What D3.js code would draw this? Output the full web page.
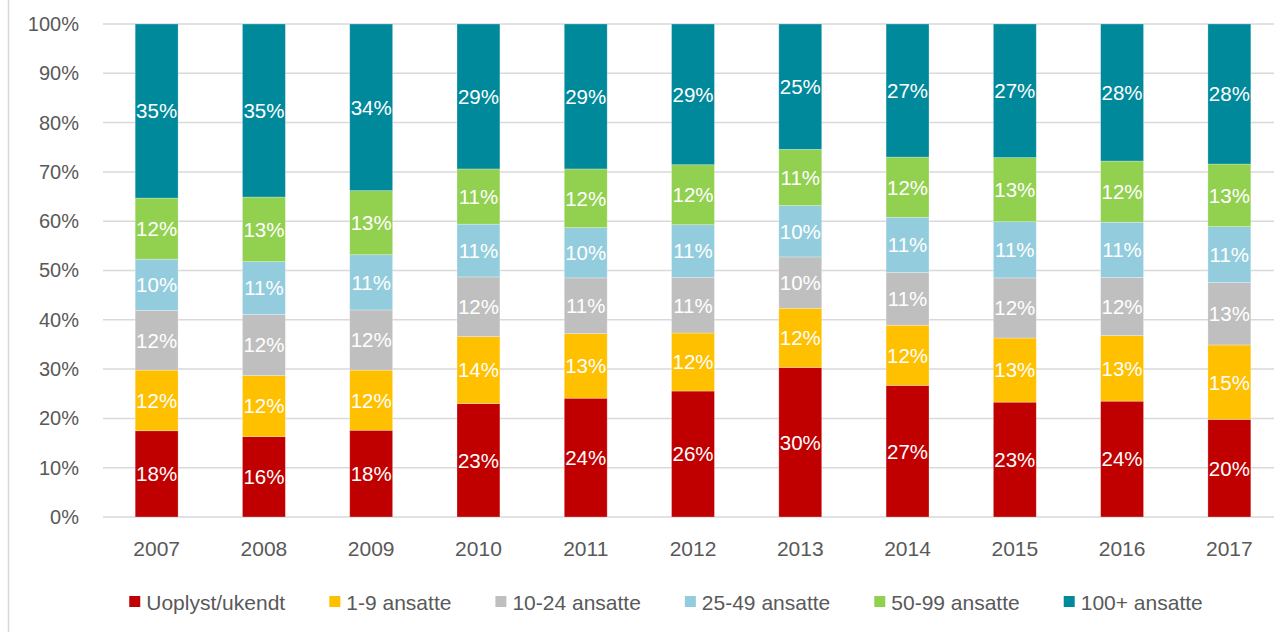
<!DOCTYPE html>
<html>
<head>
<meta charset="utf-8">
<script src="https://cdn.jsdelivr.net/npm/d3@7"></script>
<style>
  body { margin: 0; background: #fff; }
  svg { display: block; font-family: "Liberation Sans", Arial, sans-serif; }
</style>
</head>
<body>
<div id="chart"></div>
<script>
// data (shares in %)
const years = ["2007", "2008", "2009", "2010", "2011", "2012", "2013", "2014", "2015", "2016", "2017"];
const seriesNames = ["Uoplyst/ukendt", "1-9 ansatte", "10-24 ansatte", "25-49 ansatte", "50-99 ansatte", "100+ ansatte"];
const uoplyst   = [17.5, 16.3, 17.6, 23.0, 24.1, 25.6, 30.3, 26.7, 23.3, 23.5, 19.8];
const ans1_9    = [12.3, 12.4, 12.2, 13.6, 13.1, 11.8, 12.0, 12.2, 13.0, 13.3, 15.1];
const ans10_24  = [12.1, 12.4, 12.2, 12.1, 11.3, 11.3, 10.4, 10.7, 12.2, 11.8, 12.7];
const ans25_49  = [10.4, 10.7, 11.2, 10.7, 10.2, 10.7, 10.4, 11.2, 11.4, 11.2, 11.3];
const ans50_99  = [12.4, 13.1, 13.0, 11.2, 11.9, 12.2, 11.4, 12.2, 13.0, 12.4, 12.7];
const ans100    = [35.3, 35.1, 33.8, 29.4, 29.4, 28.6, 25.4, 27.0, 27.1, 27.8, 28.4];
const yTicks = [0, 10, 20, 30, 40, 50, 60, 70, 80, 90, 100];

const colors = ["#C00000", "#FFC000", "#BFBFBF", "#93CDDD", "#92D050", "#00899B"];

const W = 1274, H = 632;
const margin = {top: 24, right: -9, bottom: 115, left: 103};

const rows = years.map((y, i) => ({
    year: y,
    s0: uoplyst[i], s1: ans1_9[i], s2: ans10_24[i],
    s3: ans25_49[i], s4: ans50_99[i], s5: ans100[i]
}));
const keys = ["s0", "s1", "s2", "s3", "s4", "s5"];

// normalise each column to 100
const stack = d3.stack().keys(keys).offset(d3.stackOffsetExpand)(rows);

const svg = d3.select("#chart").append("svg")
    .attr("width", W)
    .attr("height", H);

// chart border on the left
svg.append("line")
    .attr("x1", 8.5).attr("x2", 8.5)
    .attr("y1", 0).attr("y2", H)
    .attr("stroke", "#d9d9d9")
    .attr("stroke-width", 1.5);

const x = d3.scaleBand()
    .domain(years)
    .range([margin.left, W - margin.right])
    .paddingInner(0.6)
    .paddingOuter(0.3);

const y = d3.scaleLinear()
    .domain([0, 1])
    .range([H - margin.bottom, margin.top]);

// gridlines
svg.append("g")
    .selectAll("line")
    .data(yTicks)
    .join("line")
    .attr("x1", margin.left)
    .attr("x2", W)
    .attr("y1", d => y(d / 100))
    .attr("y2", d => y(d / 100))
    .attr("stroke", "#d9d9d9")
    .attr("stroke-width", 1.5);

// y axis labels
const yAxis = svg.append("g")
    .attr("transform", "translate(" + 79 + ",0)")
    .call(d3.axisLeft(y).tickValues(yTicks.map(d => d / 100)).tickFormat(d3.format(".0%")).tickSize(0).tickPadding(0));
yAxis.select(".domain").remove();
yAxis.selectAll("text")
    .attr("fill", "#595959")
    .style("font-size", "20px")
    .style("font-family", "'Liberation Sans', Arial, sans-serif");

// x axis labels
const xAxis = svg.append("g")
    .attr("transform", "translate(0," + (H - margin.bottom) + ")")
    .call(d3.axisBottom(x).tickSize(0).tickPadding(24));
xAxis.select(".domain").remove();
xAxis.selectAll("text")
    .attr("fill", "#595959")
    .style("font-size", "21px")
    .style("font-family", "'Liberation Sans', Arial, sans-serif");

// bars
const layers = svg.append("g")
    .selectAll("g")
    .data(stack)
    .join("g")
    .attr("fill", (d, i) => colors[i]);

layers.selectAll("rect")
    .data(d => d)
    .join("rect")
    .attr("x", d => x(d.data.year))
    .attr("width", x.bandwidth())
    .attr("y", d => y(d[1]))
    .attr("height", d => y(d[0]) - y(d[1]))
    .attr("stroke", "#ffffff")
    .attr("stroke-opacity", 0.35)
    .attr("stroke-width", 0.75);

// data labels
layers.selectAll("text")
    .data(d => d.map(v => ({v: v, key: d.key})))
    .join("text")
    .attr("x", d => x(d.v.data.year) + x.bandwidth() / 2)
    .attr("y", d => y((d.v[0] + d.v[1]) / 2))
    .attr("dy", "0.36em")
    .attr("text-anchor", "middle")
    .attr("fill", "#ffffff")
    .style("font-size", "20.5px")
    .text(d => Math.round(d.v.data[d.key]) + "%");

// legend
const legend = svg.append("g")
    .attr("transform", "translate(0," + 602 + ")");

const items = legend.selectAll("g")
    .data(seriesNames)
    .join("g");

items.append("rect")
    .attr("x", 0)
    .attr("y", -6)
    .attr("width", 11)
    .attr("height", 11)
    .attr("fill", (d, i) => colors[i]);

items.append("text")
    .attr("x", 17)
    .attr("dy", "0.36em")
    .attr("fill", "#595959")
    .style("font-size", "21px")
    .text(d => d);

// lay legend items side by side, centred
const gap = 44;
let widths = [];
items.each(function() { widths.push(this.getBBox().width); });
const total = d3.sum(widths) + gap * (widths.length - 1);
let pos = 666 - total / 2;
items.attr("transform", (d, i) => {
    const t = "translate(" + pos + ",0)";
    pos += widths[i] + gap;
    return t;
});
</script>
</body>
</html>
